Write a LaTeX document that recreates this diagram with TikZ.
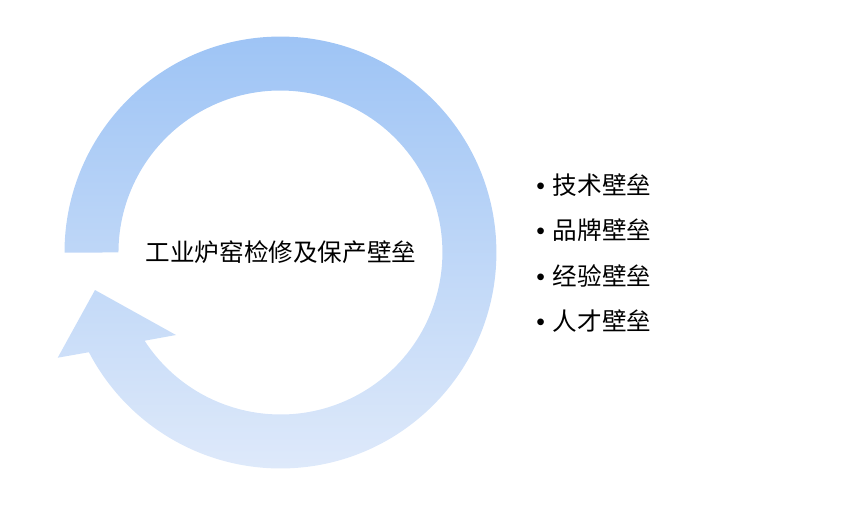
\documentclass[tikz,border=0pt]{standalone}
\usepackage{fontspec}
\newfontfamily\cjk{Noto Sans CJK SC}
\newfontfamily\dotfont{Liberation Sans}
\usepackage{tikz}
\usetikzlibrary{positioning}

\definecolor{ringtop}{RGB}{158,196,245}
\definecolor{ringbottom}{RGB}{222,233,250}

\newcommand{\itemdot}{{\dotfont •}\hspace{4.5pt}}

\begin{document}
\begin{tikzpicture}[
    x=0.02cm,
    y=-0.02cm,
    node distance=0.91cm,
    ring/.style={
        top color=ringtop,
        bottom color=ringbottom,
        draw=none
    },
    label/.style={
        font=\cjk\fontsize{14}{17}\selectfont,
        text=black,
        inner sep=0pt
    },
    item/.style={
        label,
        anchor=west
    }
]

% Canvas
\useasboundingbox (0,0) rectangle (865,505);

% Ring arrow
\path [ring] (64.5,252.5) arc[start angle=180, end angle=-152.5, radius=4.32cm]
    -- (57.7,357.7) -- (95,290) -- (176,335) -- (144.6,340.7)
    arc[start angle=-147, end angle=180, radius=3.24cm] -- cycle;

% Nodes
\node [label] (title) at (281,252) {工业炉窑检修及保产壁垒};
\node [item] (tech) at (536,185) {\itemdot 技术壁垒};
\node [item, below of=tech] (brand) {\itemdot 品牌壁垒};
\node [item, below of=brand] (exp) {\itemdot 经验壁垒};
\node [item, below of=exp] (talent) {\itemdot 人才壁垒};

\end{tikzpicture}
\end{document}
